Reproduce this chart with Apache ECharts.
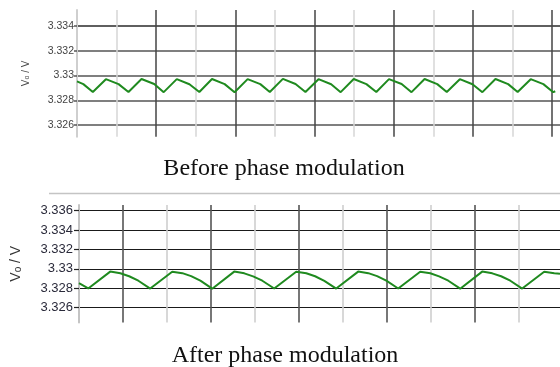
<!DOCTYPE html>
<html>
<head>
<meta charset="utf-8">
<script src="https://cdn.jsdelivr.net/npm/echarts@6/dist/echarts.min.js"></script>
<style>
html, body { margin: 0; padding: 0; background: #fff; }
#chart { width: 560px; height: 367px; }
</style>
</head>
<body>
<div id="chart"></div>
<script>
// x in grid divisions, y = output voltage (V)
const beforeT = [0, 0.16,
  0.40, 0.73, 1.05, 1.30, 1.63, 1.95, 2.19, 2.52, 2.84, 3.09, 3.41, 3.73,
  3.98, 4.31, 4.63, 4.87, 5.20, 5.52, 5.77, 6.10, 6.42, 6.66, 6.99, 7.31,
  7.56, 7.88, 8.20, 8.45, 8.78, 9.10, 9.34, 9.67, 9.99, 10.24, 10.57, 10.89,
  11.13, 11.46, 11.78, 12.03, 12.08];
const beforeV = [3.32952, 3.3293,
  3.32867, 3.32970, 3.32930, 3.32866, 3.32971, 3.32931, 3.32865, 3.32970, 3.32929, 3.32866, 3.32971, 3.32930,
  3.32864, 3.32970, 3.32930, 3.32866, 3.32972, 3.32931, 3.32867, 3.32970, 3.32929, 3.32865, 3.32971, 3.32930,
  3.32866, 3.32970, 3.32931, 3.32865, 3.32971, 3.32930, 3.32866, 3.32970, 3.32929, 3.32865, 3.32971, 3.32930,
  3.32866, 3.32970, 3.32930, 3.32865, 3.32872];

const afterT = [0,
  0.21, 0.71, 0.94, 1.14, 1.35,
  1.62, 2.12, 2.35, 2.55, 2.76,
  3.03, 3.53, 3.76, 3.96, 4.17,
  4.44, 4.94, 5.17, 5.37, 5.58,
  5.85, 6.35, 6.58, 6.78, 6.99,
  7.26, 7.76, 7.99, 8.19, 8.40,
  8.67, 9.17, 9.40, 9.60, 9.81,
  10.08, 10.58, 10.81, 10.94];
const afterV = [3.32852,
  3.32798, 3.32972, 3.32955, 3.32924, 3.32878,
  3.32797, 3.32971, 3.32956, 3.32925, 3.32879,
  3.32796, 3.32972, 3.32954, 3.32923, 3.32878,
  3.32798, 3.32971, 3.32955, 3.32924, 3.32877,
  3.32797, 3.32972, 3.32956, 3.32925, 3.32879,
  3.32798, 3.32971, 3.32955, 3.32923, 3.32878,
  3.32796, 3.32972, 3.32954, 3.32924, 3.32878,
  3.32797, 3.32971, 3.32955, 3.32950];

const beforeTicks = [3.326, 3.328, 3.33, 3.332, 3.334];
const afterTicks = [3.326, 3.328, 3.33, 3.332, 3.334, 3.336];

const sans = 'Liberation Sans';
const serif = 'Liberation Serif';

const chart = echarts.init(document.getElementById('chart'));

const pairs = (t, v) => t.map((x, i) => [x, v[i]]);
const fmt = v => String(+v.toFixed(3));

const option = {
  animation: false,
  backgroundColor: '#fff',
  title: [
    { text: 'Before phase modulation', left: 279, top: 152, textAlign: 'center',
      textStyle: { fontFamily: serif, fontSize: 24, fontWeight: 'normal', color: '#111' } },
    { text: 'After phase modulation', left: 280, top: 339, textAlign: 'center',
      textStyle: { fontFamily: serif, fontSize: 24, fontWeight: 'normal', color: '#111' } }
  ],
  graphic: [
    { type: 'line', shape: { x1: 49, y1: 193.5, x2: 560, y2: 193.5 },
      style: { stroke: '#c4c4c4', lineWidth: 1.5 } }
  ],
  grid: [
    // top chart: full plot area, labelled rows
    { left: 77, right: 0, top: 10, height: 126.7, outerBoundsMode: 'none' },
    { left: 77, right: 0, top: 26, height: 99, outerBoundsMode: 'none' },
    // bottom chart
    { left: 79, right: 0, top: 205, height: 117.5, outerBoundsMode: 'none' },
    { left: 79, right: 0, top: 210.7, height: 97, outerBoundsMode: 'none' }
  ],
  xAxis: [
    { gridIndex: 0, type: 'value', min: 0, max: 12.2, interval: 1,
      axisLine: { show: false }, axisTick: { show: false }, axisLabel: { show: false },
      splitLine: { show: true, showMinLine: false, showMaxLine: false,
        lineStyle: { color: ['#d6d6d6', '#454545'], width: 1.5 } } },
    { gridIndex: 1, type: 'value', min: 0, max: 1, show: false },
    { gridIndex: 2, type: 'value', min: 0, max: 10.94, interval: 1,
      axisLine: { show: false }, axisTick: { show: false }, axisLabel: { show: false },
      splitLine: { show: true, showMinLine: false, showMaxLine: false,
        lineStyle: { color: ['#555', '#cfcfcf'], width: 1.6 } } },
    { gridIndex: 3, type: 'value', min: 0, max: 1, show: false }
  ],
  yAxis: [
    { gridIndex: 0, type: 'value', min: 3.32505, max: 3.33529,
      name: '{a|V}{b|o}{a| / V}', nameLocation: 'middle', nameGap: 46,
      nameTextStyle: { color: '#444', rich: {
        a: { fontFamily: sans, fontSize: 10, lineHeight: 12, verticalAlign: 'bottom', color: '#444' },
        b: { fontFamily: sans, fontSize: 7, lineHeight: 5, verticalAlign: 'bottom', color: '#444' } } },
      axisLine: { show: true, lineStyle: { color: '#cfcfcf', width: 2 } },
      axisTick: { show: false }, axisLabel: { show: false }, splitLine: { show: false } },
    { gridIndex: 1, type: 'value', min: beforeTicks[0], max: beforeTicks[beforeTicks.length - 1],
      interval: beforeTicks[1] - beforeTicks[0],
      axisLine: { show: false },
      axisTick: { show: true, length: 3, lineStyle: { color: '#555', width: 1.5 } },
      axisLabel: { fontFamily: sans, fontSize: 10.5, color: '#444', margin: 3, formatter: fmt },
      splitLine: { show: true, lineStyle: { color: '#555', width: 1.5 } } },
    { gridIndex: 2, type: 'value', min: 3.32447, max: 3.33659,
      name: '{a|V}{b|o}{a| / V}', nameLocation: 'middle', nameGap: 56,
      nameTextStyle: { color: '#333', rich: {
        a: { fontFamily: sans, fontSize: 14, lineHeight: 16, verticalAlign: 'bottom', color: '#333' },
        b: { fontFamily: sans, fontSize: 10, lineHeight: 7, verticalAlign: 'bottom', color: '#333' } } },
      axisLine: { show: true, lineStyle: { color: '#c4c4c4', width: 2 } },
      axisTick: { show: false }, axisLabel: { show: false }, splitLine: { show: false } },
    { gridIndex: 3, type: 'value', min: afterTicks[0], max: afterTicks[afterTicks.length - 1],
      interval: afterTicks[1] - afterTicks[0],
      axisLine: { show: false },
      axisTick: { show: true, length: 5, lineStyle: { color: '#222', width: 1.2 } },
      axisLabel: { fontFamily: sans, fontSize: 13, color: '#2a2a3a', margin: 6, formatter: fmt },
      splitLine: { show: true, lineStyle: { color: '#1a1a1a', width: 1.2 } } }
  ],
  series: [
    { type: 'line', xAxisIndex: 0, yAxisIndex: 0, data: pairs(beforeT, beforeV),
      showSymbol: false, symbol: 'none', z: 10,
      lineStyle: { color: '#1f8a1f', width: 2 } },
    { type: 'line', xAxisIndex: 2, yAxisIndex: 2, data: pairs(afterT, afterV),
      showSymbol: false, symbol: 'none', z: 10,
      lineStyle: { color: '#1f8a1f', width: 2 } }
  ]
};

chart.setOption(option);
</script>
</body>
</html>
